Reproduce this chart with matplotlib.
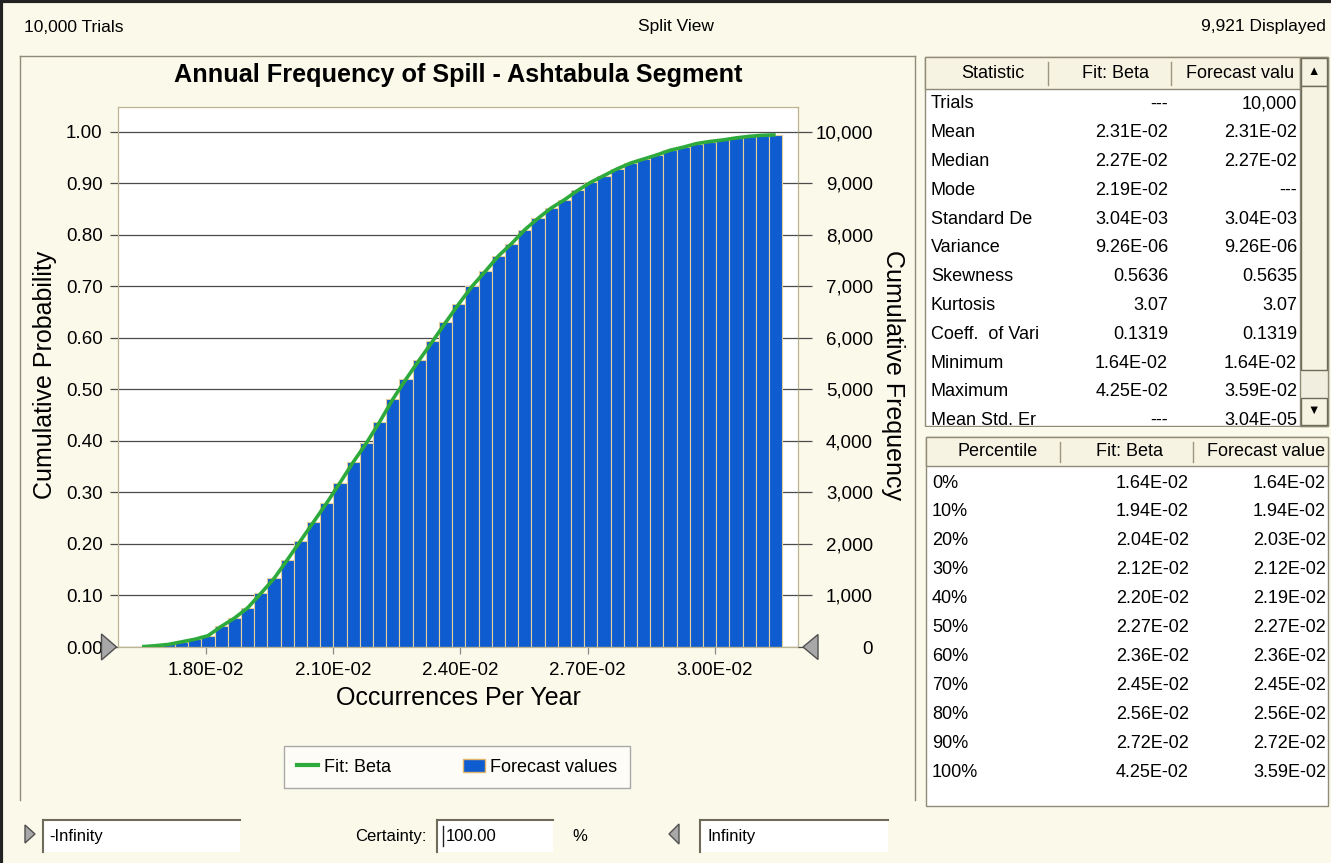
import numpy as np
import matplotlib
matplotlib.use("Agg")
import matplotlib.pyplot as plt
from matplotlib.patches import Rectangle, Polygon, Patch
from matplotlib.lines import Line2D

plt.rcParams['font.family'] = ['Liberation Sans', 'DejaVu Sans']

# ---- data ----
bin_start = 0.016346   # left edge of first bin
bin_width = 0.000311
cum_prob = [0.0006, 0.0025, 0.005, 0.010, 0.015, 0.022, 0.040, 0.056, 0.076, 0.104,
            0.133, 0.169, 0.206, 0.243, 0.280, 0.319, 0.359, 0.396, 0.437, 0.481,
            0.520, 0.557, 0.593, 0.630, 0.666, 0.700, 0.729, 0.759, 0.783, 0.810,
            0.832, 0.852, 0.868, 0.886, 0.902, 0.915, 0.928, 0.939, 0.947, 0.955,
            0.964, 0.970, 0.977, 0.981, 0.984, 0.988, 0.991, 0.993, 0.994]
x_ticks = [0.018, 0.021, 0.024, 0.027, 0.030]
prob_ticks = [0.0, 0.1, 0.2, 0.3, 0.4, 0.5, 0.6, 0.7, 0.8, 0.9, 1.0]
freq_ticks = [0, 1000, 2000, 3000, 4000, 5000, 6000, 7000, 8000, 9000, 10000]

stat_names = ["Trials", "Mean", "Median", "Mode", "Standard De", "Variance", "Skewness",
              "Kurtosis", "Coeff.  of Vari", "Minimum", "Maximum", "Mean Std. Er"]
stat_fit = ["---", "2.31E-02", "2.27E-02", "2.19E-02", "3.04E-03", "9.26E-06", "0.5636",
            "3.07", "0.1319", "1.64E-02", "4.25E-02", "---"]
stat_fcst = ["10,000", "2.31E-02", "2.27E-02", "---", "3.04E-03", "9.26E-06", "0.5635",
             "3.07", "0.1319", "1.64E-02", "3.59E-02", "3.04E-05"]

pct_names = ["0%", "10%", "20%", "30%", "40%", "50%", "60%", "70%", "80%", "90%", "100%"]
pct_fit = ["1.64E-02", "1.94E-02", "2.04E-02", "2.12E-02", "2.20E-02", "2.27E-02",
           "2.36E-02", "2.45E-02", "2.56E-02", "2.72E-02", "4.25E-02"]
pct_fcst = ["1.64E-02", "1.94E-02", "2.03E-02", "2.12E-02", "2.19E-02", "2.27E-02",
            "2.36E-02", "2.45E-02", "2.56E-02", "2.72E-02", "3.59E-02"]

# ---- layout helpers (pixel coords, y down) ----
W, H = 1331, 863
bg = '#fbf9ea'
blue = '#0f5bd0'
green = '#2eaa3c'


def fx(x):
    return x / W


def fy(y):
    return 1 - y / H


fig = plt.figure(figsize=(W / 100, H / 100), dpi=100, facecolor=bg)


def rect(x0, y0, x1, y1, fc, ec='none', lw=1.0, z=1):
    fig.add_artist(Rectangle((fx(x0), fy(y1)), (x1 - x0) / W, (y1 - y0) / H,
                             transform=fig.transFigure, fc=fc, ec=ec, lw=lw, zorder=z))


def line(xs, ys, color, lw=1.0, z=2):
    fig.add_artist(Line2D([fx(v) for v in xs], [fy(v) for v in ys], color=color, lw=lw, zorder=z))


def txt(x, y, s, ha='left', size=13, z=3, **kw):
    fig.text(fx(x), fy(y), s, ha=ha, va='center', fontsize=size, zorder=z, **kw)


def tri(cx, cy, w, h, right=True, z=6):
    if right:
        pts = [(cx - w / 2, cy - h / 2), (cx + w / 2, cy), (cx - w / 2, cy + h / 2)]
    else:
        pts = [(cx + w / 2, cy - h / 2), (cx - w / 2, cy), (cx + w / 2, cy + h / 2)]
    fig.add_artist(Polygon([(fx(a), fy(b)) for a, b in pts], closed=True,
                           transform=fig.transFigure, fc='#a8a8a8', ec='#505050', lw=1, zorder=z))


# ---- chart ----
ax = fig.add_axes([fx(118), fy(647), (798 - 118) / W, (647 - 107) / H])
ax.set_facecolor('white')
edges = bin_start + bin_width * np.arange(len(cum_prob))
centers = edges + bin_width / 2
ax.bar(edges, cum_prob, width=bin_width, align='edge', color=blue,
       edgecolor='#e2cf9c', linewidth=0.8, zorder=2)
ax.plot(centers, cum_prob, color=green, lw=2.6, zorder=3, solid_capstyle='butt')

ax.set_xlim(0.015934, 0.031956)
ax.set_ylim(0, 1.048)
ax.set_axisbelow(True)
ax.yaxis.grid(True, color='#4a4a4a', lw=0.9)
ax.set_yticks(prob_ticks, [f"{v:.2f}" for v in prob_ticks])
ax.set_xticks(x_ticks, [f"{v:.2E}" for v in x_ticks])
ax.tick_params(axis='y', direction='out', length=6, width=0.9, color='#4a4a4a',
               pad=5, labelsize=13.5)
ax.tick_params(axis='x', direction='out', length=5, width=0.9, color='#8a8a8a',
               pad=6, labelsize=13.5)
for s in ax.spines.values():
    s.set_color('#bdb592')
    s.set_linewidth(0.9)

ax2 = ax.twinx()
ax2.set_ylim(0, 1.048 * 10000)
ax2.set_yticks(freq_ticks, [f"{v:,}" for v in freq_ticks], ha='right')
ax2.tick_params(axis='y', direction='out', length=10, width=0.9, color='#4a4a4a',
                pad=44, labelsize=13.5)
for s in ax2.spines.values():
    s.set_visible(False)

tri(109, 647, 15, 26, right=True)
tri(810.5, 647, 15, 25, right=False)

txt(458, 75, "Annual Frequency of Spill - Ashtabula Segment", ha='center', size=18.2,
    fontweight='bold')
txt(458, 698, "Occurrences Per Year", ha='center', size=18)
fig.text(fx(45), fy(375), "Cumulative Probability", rotation=90, ha='center', va='center',
         fontsize=18)
fig.text(fx(893), fy(375), "Cumulative Frequency", rotation=270, ha='center', va='center',
         fontsize=18)

handles = [Line2D([], [], color=green, lw=3),
           Patch(facecolor=blue, edgecolor='#e2b66a', lw=1)]
leg = fig.legend(handles, ["Fit: Beta", "Forecast values"], loc='center',
                 bbox_to_anchor=(fx(457), fy(767)), ncol=2, fontsize=13,
                 handlelength=1.2, handletextpad=0.3, columnspacing=4.0,
                 borderpad=0.7, fancybox=False, frameon=True)
leg.get_frame().set_edgecolor('#a9a9a9')
leg.get_frame().set_facecolor('#fdfcf6')
leg.get_frame().set_alpha(1)

# ---- window chrome ----
line([0, W], [1, 1], '#222222', lw=3)
line([1, 1], [0, H], '#222222', lw=3)
txt(24, 27, "10,000 Trials", size=12.5)
txt(676, 27, "Split View", ha='center', size=12.5)
txt(1326, 27, "9,921 Displayed", ha='right', size=12.5)
line([20, 915], [56, 56], '#8f8b78', lw=1)
line([20, 20], [56, 800], '#8f8b78', lw=1)
line([915, 915], [56, 800], '#8f8b78', lw=1)

# ---- statistics table ----
rect(925, 57, 1328, 426, 'white', '#8f8b78', lw=1, z=1)
rect(925, 57, 1300, 89, '#f6f3e3', '#8f8b78', lw=1, z=2)
line([1048, 1048], [62, 85], '#9a9682', lw=1)
line([1171, 1171], [62, 85], '#9a9682', lw=1)
txt(993, 73, "Statistic", ha='center')
txt(1115, 73, "Fit: Beta", ha='center')
txt(1240, 73, "Forecast valu", ha='center')
for i, name in enumerate(stat_names):
    y = 104 + i * 28.8
    txt(931, y, name)
    txt(1168, y, stat_fit[i], ha='right')
    txt(1297, y, stat_fcst[i], ha='right')
# scrollbar
rect(1300, 57, 1328, 426, '#f1eee0', '#8f8b78', lw=1, z=4)
rect(1301, 58, 1327, 86, '#f6f3e3', '#6f6b5a', lw=1, z=5)
rect(1301, 86, 1327, 370, '#f6f3e3', '#6f6b5a', lw=1, z=5)
rect(1301, 398, 1327, 425, '#f6f3e3', '#6f6b5a', lw=1, z=5)
txt(1314, 72, "\u25b2", ha='center', size=9, z=6)
txt(1314, 411, "\u25bc", ha='center', size=9, z=6)
rect(924, 427, 1300, 436, bg, 'none', z=4)

# ---- percentile table ----
rect(926, 437, 1328, 806, 'white', '#8f8b78', lw=1, z=5)
rect(926, 437, 1328, 466, '#f6f3e3', '#8f8b78', lw=1, z=5)
line([1060, 1060], [442, 462], '#9a9682', lw=1, z=6)
line([1193, 1193], [442, 462], '#9a9682', lw=1, z=6)
txt(998, 452, "Percentile", ha='center', z=6)
txt(1130, 452, "Fit: Beta", ha='center', z=6)
txt(1266, 452, "Forecast value", ha='center', z=6)
for i, name in enumerate(pct_names):
    y = 483 + i * 28.9
    txt(932, y, name, z=6)
    txt(1189, y, pct_fit[i], ha='right', z=6)
    txt(1326, y, pct_fcst[i], ha='right', z=6)

# ---- bottom controls ----
tri(30, 834, 10, 18, right=True)
rect(43, 820, 240, 852, 'white', 'none', z=2)
line([43, 240], [820, 820], '#6f6b5a', lw=1.5)
line([43, 43], [820, 852], '#6f6b5a', lw=1.5)
txt(49, 836, "-Infinity", size=12)
txt(355, 836, "Certainty:", size=12)
rect(437, 820, 553, 852, 'white', 'none', z=2)
line([437, 553], [820, 820], '#6f6b5a', lw=1.5)
line([437, 437], [820, 852], '#6f6b5a', lw=1.5)
line([443, 443], [826, 846], '#222222', lw=1)
txt(446, 836, "100.00", size=12)
txt(572, 836, "%", size=12)
tri(674, 834, 10, 20, right=False)
rect(700, 820, 888, 852, 'white', 'none', z=2)
line([700, 888], [820, 820], '#6f6b5a', lw=1.5)
line([700, 700], [820, 852], '#6f6b5a', lw=1.5)
txt(707, 836, "Infinity", size=12)

fig.savefig("out.png", dpi=100, facecolor=bg)
